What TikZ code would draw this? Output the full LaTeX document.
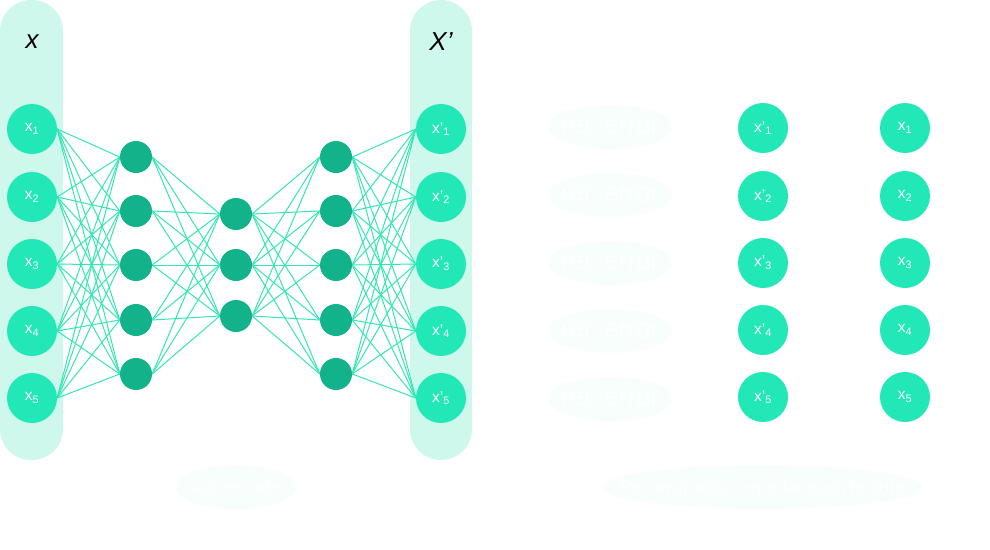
\documentclass[tikz,border=0pt]{standalone}
\usepackage{fontspec}
\setmainfont{Liberation Sans}
\definecolor{pill}{HTML}{CFF8EC}
\definecolor{nodec}{HTML}{22E8B7}
\definecolor{hidc}{HTML}{12B38A}
\definecolor{edgec}{HTML}{34E6B6}
\definecolor{glow}{HTML}{F8FEFC}
\pgfdeclarelayer{bg}
\pgfdeclarelayer{edges}
\pgfsetlayers{bg,edges,main}
\begin{document}
\begin{tikzpicture}[x=1pt,y=-1pt,
  io/.style={circle,fill=nodec,minimum size=50pt,inner sep=0pt,text=white,font=\fontsize{15.5}{15.5}\selectfont},
  hid/.style={circle,fill=hidc,minimum size=32pt,inner sep=0pt},
  conn/.style={draw=edgec,line width=1pt},
  pillbox/.style={fill=pill,rounded corners=31pt},
  faint/.style={text=white,font=\fontsize{26}{26}\selectfont},
  faintsm/.style={text=white,font=\fontsize{17.5}{17.5}\selectfont}
]
\useasboundingbox (0,0) rectangle (990,549);
\begin{pgfonlayer}{bg}
\fill[white] (0,0) rectangle (990,549);
\path[pillbox] (0,0) rectangle (63,460);
\path[pillbox] (410,0) rectangle (472,460);
\end{pgfonlayer}
\node[font=\fontsize{26}{26}\selectfont\itshape] (lx) at (32,42) {x};
\node[font=\fontsize{26}{26}\selectfont\itshape] (lxp) at (441,42) {X’};
% nodes
\foreach \i/\y in {1/129,2/197,3/264,4/331,5/398}{
  \node[io] (in\i) at (32,\y) {x\textsubscript{\i}};
  \node[io] (out\i) at (441,\y) {x’\textsubscript{\i}};
  \node[io] (rp\i) at (763,\y-1) {x’\textsubscript{\i}};
  \node[io] (rx\i) at (905,\y-1) {x\textsubscript{\i}};
}
\foreach \i/\y in {1/157,2/211,3/265,4/320,5/374}{
  \node[hid] (ha\i) at (136,\y) {};
  \node[hid] (hc\i) at (336,\y) {};
}
\foreach \i/\y in {1/214,2/265,3/316}{
  \node[hid] (hb\i) at (236,\y) {};
}
% connectors
\begin{pgfonlayer}{edges}
\foreach \i in {1,...,5}{
  \foreach \j in {1,...,5}{
    \draw[conn] (in\i.east) -- (ha\j.west);
    \draw[conn] (hc\i.east) -- (out\j.west);
  }
  \foreach \j in {1,2,3}{
    \draw[conn] (ha\i.east) -- (hb\j.west);
    \draw[conn] (hb\j.east) -- (hc\i.west);
  }
}
\end{pgfonlayer}
% faint labels
\foreach \i/\y in {1/127,2/195,3/263,4/331,5/399}{
  \fill[glow] (610,\y) ellipse (62 and 22);
  \node[faint] (re\i) at (610,\y) {rec error};
}
\fill[glow] (236,487) ellipse (60 and 22);
\node[faintsm] (ae) at (236,487) {Autoencoder};
\fill[glow] (762,487) ellipse (160 and 22);
\node[faintsm] (rc) at (762,487) {Reconstruction error for each feature};
\end{tikzpicture}
\end{document}
